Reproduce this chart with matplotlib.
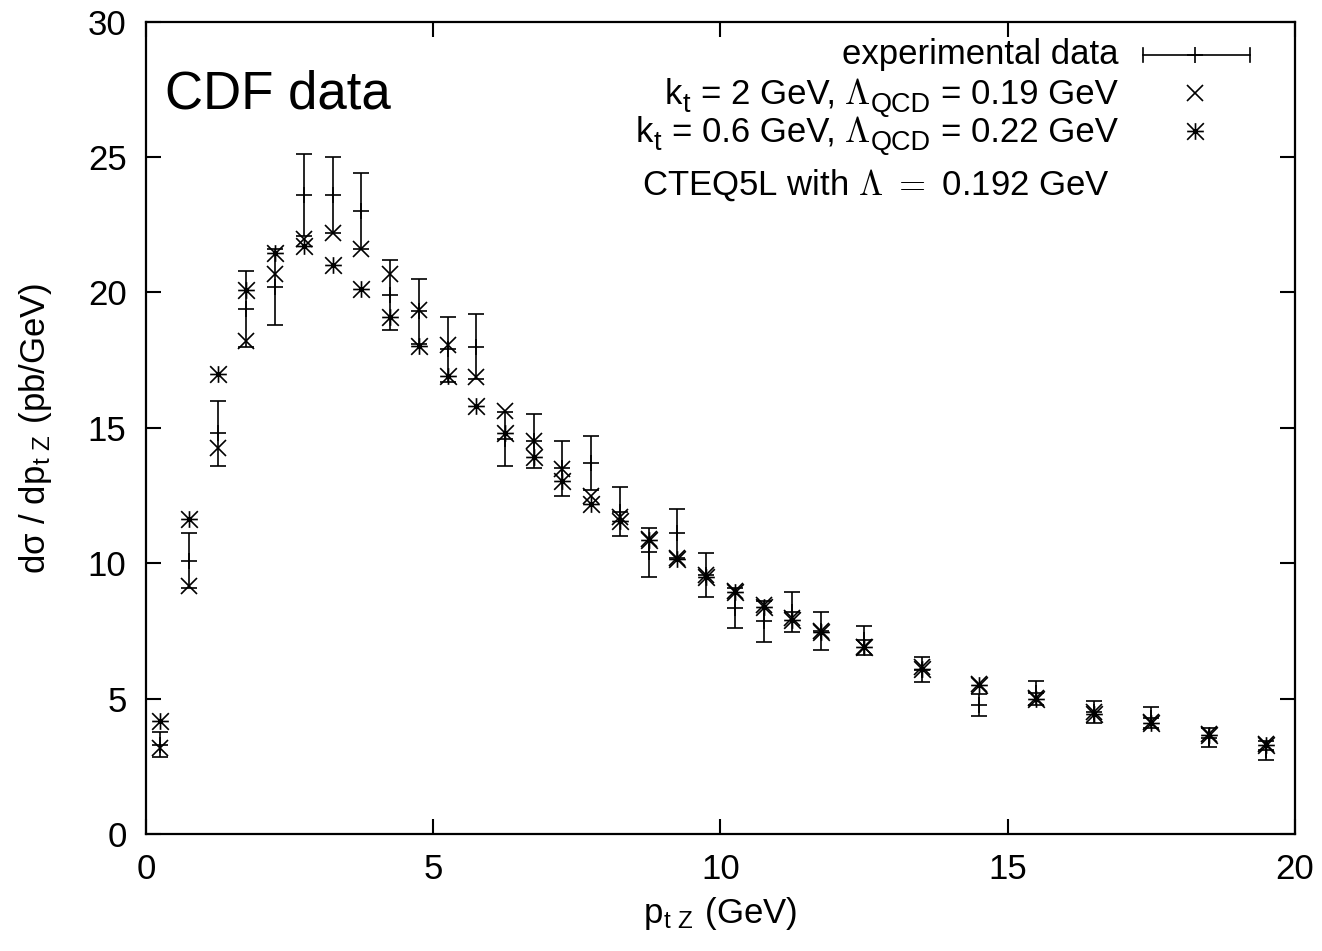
import matplotlib
matplotlib.use("Agg")
import matplotlib.pyplot as plt
from matplotlib.path import Path
import numpy as np

# ---- data ----
pt = [0.25, 0.75, 1.25, 1.75, 2.25, 2.75, 3.25, 3.75, 4.25, 4.75, 5.25, 5.75,
      6.25, 6.75, 7.25, 7.75, 8.25, 8.75, 9.25, 9.75, 10.25, 10.75, 11.25, 11.75,
      12.5, 13.5, 14.5, 15.5, 16.5, 17.5, 18.5, 19.5]
exp_data = [3.3, 10.1, 14.8, 19.4, 20.2, 23.6, 23.6, 23.0, 19.9, 19.3, 17.9, 18.0,
            14.6, 14.5, 13.5, 13.7, 11.9, 10.4, 11.1, 9.57, 8.35, 7.85, 8.2, 7.5,
            7.15, 6.07, 4.77, 5.2, 4.5, 4.3, 3.55, 3.1]
exp_err = [0.45, 1.0, 1.2, 1.4, 1.4, 1.5, 1.4, 1.4, 1.3, 1.2, 1.2, 1.2,
           1.0, 1.0, 1.0, 1.0, 0.9, 0.9, 0.9, 0.8, 0.75, 0.75, 0.75, 0.7,
           0.55, 0.46, 0.4, 0.45, 0.4, 0.4, 0.35, 0.35]
kt2 = [3.18, 9.16, 14.26, 18.2, 20.7, 21.97, 22.2, 21.62, 20.7, 19.35, 18.06, 16.86,
       15.61, 14.5, 13.48, 12.48, 11.7, 10.9, 10.2, 9.56, 8.98, 8.45, 7.96, 7.51,
       6.92, 6.16, 5.55, 5.02, 4.5, 4.13, 3.68, 3.34]
kt06 = [4.17, 11.63, 16.98, 20.1, 21.44, 21.7, 21.01, 20.11, 19.1, 18.03, 16.9, 15.82,
        14.81, 13.93, 13.03, 12.2, 11.55, 10.85, 10.15, 9.5, 8.95, 8.4, 7.9, 7.45,
        6.9, 6.1, 5.5, 4.98, 4.45, 4.1, 3.65, 3.3]

xticks = [0, 5, 10, 15, 20]
yticks = [0, 5, 10, 15, 20, 25, 30]

plt.rcParams['font.family'] = ['Liberation Sans', 'DejaVu Sans']
plt.rcParams['mathtext.fontset'] = 'cm'
plt.rcParams['mathtext.rm'] = 'Liberation Sans'

FS = 25
DPI = 100

fig = plt.figure(figsize=(13.22, 9.51), dpi=DPI)
ax = fig.add_axes([0.1104, 0.1230, 0.8692, 0.8542])

# star marker (+ combined with x)
verts = [(-1, 0), (1, 0), (0, -1), (0, 1), (-1, -1), (1, 1), (-1, 1), (1, -1)]
codes = [Path.MOVETO, Path.LINETO] * 4
star = Path(verts, codes)

lw = 1.2
ax.errorbar(pt, exp_data, yerr=exp_err, fmt='+', color='black', ms=12, mew=lw,
            elinewidth=lw, capsize=6, capthick=lw)
ax.plot(pt, kt2, linestyle='none', marker='x', color='black', ms=12, mew=lw)
ax.plot(pt, kt06, linestyle='none', marker=star, color='black', ms=12, mew=lw)

ax.set_xlim(0, 20)
ax.set_ylim(0, 30)
ax.set_xticks(xticks)
ax.set_yticks(yticks)
ax.tick_params(direction='in', length=11, width=1.5, top=True, right=True,
               labelsize=FS, pad=14)
for s in ax.spines.values():
    s.set_linewidth(1.6)

ax.set_xlabel(r'p$_{\mathregular{t\ Z}}$ (GeV)', fontsize=FS, labelpad=6)
ax.set_ylabel(r'd$\mathregular{\sigma}$ / dp$_{\mathregular{t\ Z}}$ (pb/GeV)', fontsize=FS, labelpad=24)

tr = ax.transAxes


def seg_line(segs, xr, yb, fs):
    """Lay out text segments (text, scale, dy, gap_before) right-aligned at xr (axes frac),
    baseline at yb (axes frac)."""
    texts = []
    for s, sc, dy, gap in segs:
        t = ax.annotate(s, xy=(xr, yb), xycoords='axes fraction',
                        xytext=(0, dy * fs), textcoords='offset points',
                        fontsize=fs * sc, ha='left', va='baseline')
        texts.append(t)
    fig.canvas.draw()
    r = fig.canvas.get_renderer()
    widths = [t.get_window_extent(r).width * 72.0 / DPI for t in texts]
    gaps = [g * fs for (_, _, _, g) in segs]
    total = sum(widths) + sum(gaps)
    x = -total
    for t, w, g, (_, _, dy, _) in zip(texts, widths, gaps, segs):
        x += g
        t.set_position((x, dy * fs))
        x += w


SUB = 0.78
DY = -0.24
G = 0.3

ax.text(0.0165, 0.910, 'CDF data', transform=tr, fontsize=38, ha='left', va='center')
ax.text(0.846, 0.959, 'experimental data', transform=tr, fontsize=FS, ha='right', va='center')
seg_line([('k', 1, 0, 0), ('t', SUB, DY, 0.02), ('= 2 GeV,', 1, 0, G),
          (r'$\Lambda$', 1.05, 0, 0.25), ('QCD', SUB, DY, 0.02), ('= 0.19 GeV', 1, 0, G)],
         0.846, 0.899, FS)
seg_line([('k', 1, 0, 0), ('t', SUB, DY, 0.02), ('= 0.6 GeV,', 1, 0, G),
          (r'$\Lambda$', 1.05, 0, 0.25), ('QCD', SUB, DY, 0.02), ('= 0.22 GeV', 1, 0, G)],
         0.846, 0.852, FS)
ax.text(0.839, 0.799, r'CTEQ5L with $\Lambda\ =\ $0.192 GeV',
        transform=tr, fontsize=FS, ha='right', va='center')

# legend samples
ax.plot([0.868, 0.961], [0.959, 0.959], transform=tr, color='black', lw=lw, clip_on=False)
ax.plot([0.868, 0.868], [0.950, 0.968], transform=tr, color='black', lw=lw, clip_on=False)
ax.plot([0.961, 0.961], [0.950, 0.968], transform=tr, color='black', lw=lw, clip_on=False)
ax.plot([0.913], [0.959], transform=tr, marker='+', color='black', ms=12, mew=lw, clip_on=False)
ax.plot([0.913], [0.912], transform=tr, marker='x', color='black', ms=12, mew=lw, clip_on=False)
ax.plot([0.913], [0.866], transform=tr, marker=star, color='black', ms=12, mew=lw, clip_on=False)

fig.savefig('out.png', dpi=DPI)
